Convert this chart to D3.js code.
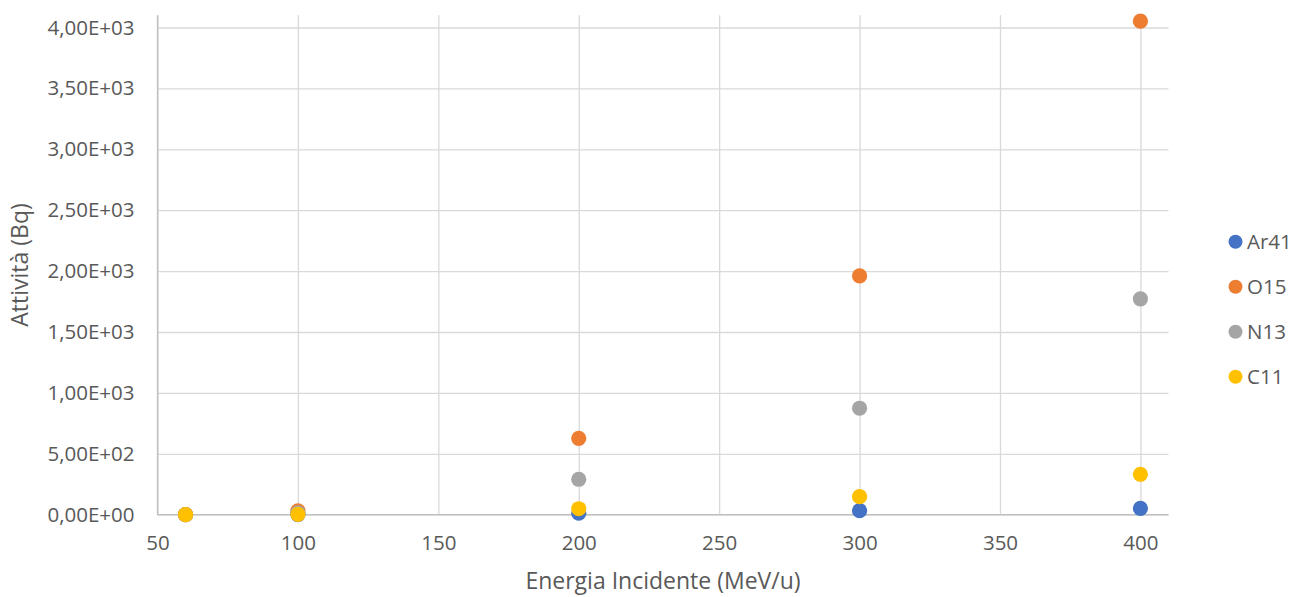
<!DOCTYPE html>
<html><head><meta charset="utf-8">
<script src="https://cdn.jsdelivr.net/npm/d3@7"></script>
<style>
body{margin:0;background:#fff;}
text{font-family:"Open Sans","Noto Sans",sans-serif;fill:#595959;}
</style></head>
<body>
<svg id="c" width="1297" height="597"></svg>
<script>
const energies = [60, 100, 200, 300, 400];
const seriesNames = ["Ar41", "O15", "N13", "C11"];
const ar41 = [0, 1, 12, 33, 52];
const o15 = [0, 32, 627, 1960, 4052];
const n13 = [0, 15, 291, 874, 1772];
const c11 = [0, 3, 49, 148, 332];
const seriesColors = ["#4472C4", "#ED7D31", "#A5A5A5", "#FFC000"];
const xTicks = [50, 100, 150, 200, 250, 300, 350, 400];
const yTicks = [0, 500, 1000, 1500, 2000, 2500, 3000, 3500, 4000];
const xTitle = "Energia Incidente (MeV/u)";
const yTitle = "Attività (Bq)";

const series = [ar41, o15, n13, c11];
const svg = d3.select("#c");
const L = 157.5, R = 1168.5, T = 15.3, B = 514.7;
const x = d3.scaleLinear().domain([50, 410]).range([L, R]);
const y = d3.scaleLinear().domain([0, 4100]).range([B, T]);

const fmt = v => { const e = v === 0 ? 0 : Math.floor(Math.log10(v)); const m = v / Math.pow(10, e);
  return m.toFixed(2).replace(".", ",") + "E" + (e < 0 ? "-" : "+") + String(Math.abs(e)).padStart(2, "0"); };

// gridlines
const gx = svg.append("g").attr("transform", `translate(0,${B})`)
  .call(d3.axisBottom(x).tickValues(xTicks).tickSize(-(B - T)).tickFormat(""));
gx.select(".domain").remove();
gx.selectAll("line").attr("stroke", "#d9d9d9").attr("stroke-width", 1.3);
const gy = svg.append("g").attr("transform", `translate(${L},0)`)
  .call(d3.axisLeft(y).tickValues(yTicks).tickSize(-(R - L)).tickFormat(""));
gy.select(".domain").remove();
gy.selectAll("line").attr("stroke", "#d9d9d9").attr("stroke-width", 1.3);

// axis lines
svg.append("line").attr("x1", L).attr("x2", R).attr("y1", B).attr("y2", B).attr("stroke", "#bfbfbf").attr("stroke-width", 1.3);
svg.append("line").attr("x1", L).attr("x2", L).attr("y1", T).attr("y2", B).attr("stroke", "#bfbfbf").attr("stroke-width", 1.3);

// tick labels
const ax = svg.append("g").attr("transform", `translate(0,${B})`)
  .call(d3.axisBottom(x).tickValues(xTicks).tickSize(0).tickPadding(21));
ax.select(".domain").remove();
ax.attr("font-size", null).attr("font-family", null);
ax.selectAll("text").style("font-size", "20.5px").style("fill", "#595959");
const ay = svg.append("g").attr("transform", `translate(${L},0)`)
  .call(d3.axisLeft(y).tickValues(yTicks).tickSize(0).tickPadding(23).tickFormat(fmt));
ay.select(".domain").remove();
ay.attr("font-size", null).attr("font-family", null);
ay.selectAll("text").style("font-size", "20.5px").style("fill", "#595959");

// titles
svg.append("text").attr("x", (L + R) / 2 - 0).attr("y", 589).attr("text-anchor", "middle")
  .style("font-size", "23px").text(xTitle);
svg.append("text").attr("transform", `translate(28,${(T + B) / 2}) rotate(-90)`).attr("text-anchor", "middle")
  .style("font-size", "23px").text(yTitle);

// points
series.forEach((s, i) => {
  svg.append("g").selectAll("circle").data(energies.map((e, j) => [e, s[j]])).join("circle")
    .attr("cx", d => x(d[0])).attr("cy", d => y(d[1])).attr("r", 7.6).attr("fill", seriesColors[i]);
});

// legend
const lg = svg.append("g");
seriesNames.forEach((n, i) => {
  const yy = 241.7 + i * 45;
  lg.append("circle").attr("cx", 1235.5).attr("cy", yy).attr("r", 7).attr("fill", seriesColors[i]);
  lg.append("text").attr("x", 1247).attr("y", yy).attr("dy", "0.35em").style("font-size", "20.5px").text(n);
});
</script>
</body></html>
